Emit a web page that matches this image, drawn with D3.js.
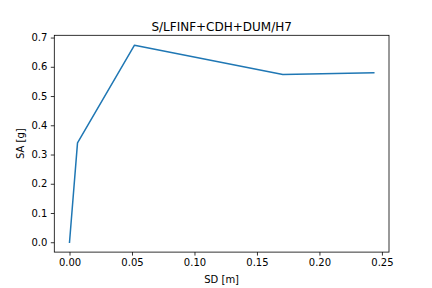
<!DOCTYPE html>
<html lang="en">
<head>
  <meta charset="utf-8">
  <title>S/LFINF+CDH+DUM/H7</title>
  <script src="https://d3js.org/d3.v7.min.js"></script>
  <style>
    body { margin: 0; background: #fff; }
    svg text { font-family: "DejaVu Sans", sans-serif; fill: #000; }
  </style>
</head>
<body>
  <div id="chart"></div>

  <script type="text/javascript">
    "use strict"

    // data
    var sd = [0.0, 0.0064, 0.052, 0.1707, 0.2435];
    var sa = [0.0, 0.340, 0.674, 0.574, 0.580];
    var xTicks = [0.00, 0.05, 0.10, 0.15, 0.20, 0.25];
    var yTicks = [0.0, 0.1, 0.2, 0.3, 0.4, 0.5, 0.6, 0.7];

    var larguraSVG = 432, alturaSVG = 288;
    var margin = {top: 35.3, right: 43, bottom: 35.9, left: 54.3},
        larguraVis = larguraSVG - margin.left - margin.right,
        alturaVis = alturaSVG - margin.top - margin.bottom;

    var svg = d3.select('#chart')
      .append('svg')
        .attr('width', larguraSVG)
        .attr('height', alturaSVG);

    var grafico = svg.append('g')
        .attr('transform', 'translate(' + margin.left + ',' + margin.top + ')');

    // matplotlib style 5% margins
    var xMin = d3.min(sd), xMax = d3.max(sd), xPad = (xMax - xMin) * 0.05;
    var yMin = d3.min(sa), yMax = d3.max(sa), yPad = (yMax - yMin) * 0.05;

    var x = d3.scaleLinear()
              .domain([xMin - xPad, xMax + xPad])
              .range([0, larguraVis]);

    var y = d3.scaleLinear()
              .domain([yMin - yPad, yMax + yPad])
              .range([alturaVis, 0]);

    var pontos = sd.map((d, i) => ({sd: d, sa: sa[i]}));

    var linha = d3.line()
                  .x(d => x(d.sd))
                  .y(d => y(d.sa));

    grafico.append('path')
           .datum(pontos)
           .attr('d', linha)
           .attr('fill', 'none')
           .attr('stroke', '#1f77b4')
           .attr('stroke-width', 1.5)
           .attr('stroke-linejoin', 'round')
           .attr('stroke-linecap', 'square');

    // eixos
    var eixoX = grafico.append('g')
            .attr('transform', 'translate(0,' + alturaVis + ')')
            .call(d3.axisBottom(x).tickValues(xTicks).tickFormat(d3.format('.2f'))
                    .tickSizeInner(3.5).tickSizeOuter(0).tickPadding(3.5));

    var eixoY = grafico.append('g')
            .call(d3.axisLeft(y).tickValues(yTicks).tickFormat(d3.format('.1f'))
                    .tickSizeInner(3.5).tickSizeOuter(0).tickPadding(3.5));

    [eixoX, eixoY].forEach(function(e) {
      e.select('.domain').remove();
      e.selectAll('.tick line').attr('stroke', '#000').attr('stroke-width', 0.8);
      e.selectAll('.tick text').attr('font-size', 10).attr('font-family', '"DejaVu Sans", sans-serif');
    });

    // moldura
    grafico.append('rect')
           .attr('width', larguraVis)
           .attr('height', alturaVis)
           .attr('fill', 'none')
           .attr('stroke', '#000')
           .attr('stroke-width', 0.8);

    // textos
    svg.append('text')
       .attr('x', margin.left + larguraVis / 2)
       .attr('y', 30.7)
       .attr('text-anchor', 'middle')
       .attr('font-size', 12)
       .text('S/LFINF+CDH+DUM/H7');

    svg.append('text')
       .attr('x', margin.left + larguraVis / 2)
       .attr('y', 283.2)
       .attr('text-anchor', 'middle')
       .attr('font-size', 10)
       .text('SD [m]');

    svg.append('text')
       .attr('transform', 'translate(24.3,' + (margin.top + alturaVis / 2) + ') rotate(-90)')
       .attr('text-anchor', 'middle')
       .attr('font-size', 10)
       .text('SA [g]');
  </script>
</body>
</html>
